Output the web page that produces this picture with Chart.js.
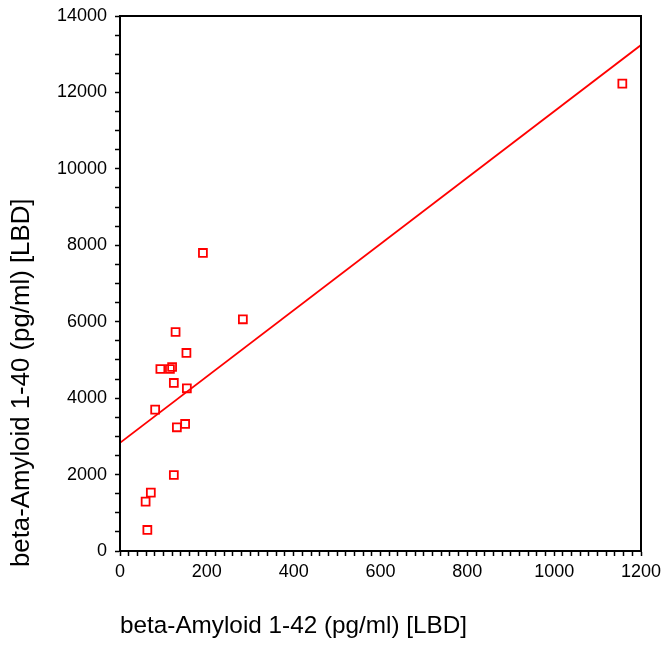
<!DOCTYPE html>
<html>
<head>
<meta charset="utf-8">
<script src="https://cdn.jsdelivr.net/npm/chart.js@4"></script>
<style>
  html, body { margin: 0; padding: 0; background: #fff; }
  #wrap { width: 664px; height: 649px; }
</style>
</head>
<body>
<div id="wrap"><canvas id="chart" width="664" height="649"></canvas></div>
<script>
// values
const abeta42 = [283, 128, 153, 93, 115, 120, 124, 154, 81, 150, 131, 124, 71, 59, 63, 191, 1157];
const abeta40 = [6064, 5731, 5182, 4763, 4763, 4815, 4397, 4258, 3698, 3324, 3237, 1989, 1527, 1291, 550, 7799, 12230];

// regression line ends
const fitX = [0, 1200];
const fitY = [2830, 13240];

const xTitle = 'beta-Amyloid 1-42 (pg/ml) [LBD]';
const yTitle = 'beta-Amyloid 1-40 (pg/ml) [LBD]';

const RED = '#ff0000';
const FONT = 'Liberation Sans, Arial, Helvetica, sans-serif';

function range(lo, hi, step) {
  const out = [];
  for (let v = lo; v <= hi + 1e-9; v += step) out.push({ value: v });
  return out;
}

// box around plot + axis titles
const frame = {
  id: 'frame',
  afterDraw(chart) {
    const { ctx, chartArea: a } = chart;
    ctx.save();
    ctx.strokeStyle = '#000';
    ctx.lineWidth = 2;
    ctx.strokeRect(a.left, a.top, a.right - a.left, a.bottom - a.top);

    ctx.fillStyle = '#000';
    ctx.textBaseline = 'alphabetic';
    ctx.textAlign = 'left';
    ctx.font = '24.3px ' + FONT;
    ctx.fillText(xTitle, a.left, a.bottom + 82);

    ctx.translate(29, a.bottom + 16);
    ctx.rotate(-Math.PI / 2);
    ctx.font = '25.8px ' + FONT;
    ctx.fillText(yTitle, 0, 0);
    ctx.restore();
  }
};

const pts = abeta42.map((x, i) => ({ x: x, y: abeta40[i] }));
const fit = fitX.map((x, i) => ({ x: x, y: fitY[i] }));

new Chart(document.getElementById('chart'), {
  type: 'scatter',
  data: {
    datasets: [
      {
        label: 'fit',
        type: 'line',
        data: fit,
        borderColor: RED,
        borderWidth: 1.8,
        pointRadius: 0,
        fill: false
      },
      {
        label: 'samples',
        data: pts,
        pointStyle: 'rect',
        pointRadius: 5.6,
        pointHoverRadius: 5.6,
        pointBorderWidth: 1.8,
        borderColor: RED,
        backgroundColor: 'rgba(0,0,0,0)'
      }
    ]
  },
  options: {
    responsive: false,
    animation: false,
    layout: { padding: { left: 0, top: 16, right: 23, bottom: 0 } },
    plugins: { legend: { display: false }, tooltip: { enabled: false } },
    scales: {
      x: {
        type: 'linear',
        min: 0, max: 1200,
        afterBuildTicks: s => { s.ticks = range(0, 1200, 20); },
        afterFit: s => { s.height = 98; s.paddingRight = 0; s.paddingLeft = 0; },
        grid: { drawOnChartArea: false, tickLength: 5, tickWidth: 1.5, color: '#000' },
        border: { color: '#000', width: 2 },
        ticks: {
          autoSkip: false, maxRotation: 0, padding: 5, color: '#000',
          font: { family: FONT, size: 18 },
          callback: v => (v % 200 === 0 ? String(v) : '')
        }
      },
      y: {
        type: 'linear',
        min: 0, max: 14000,
        afterBuildTicks: s => { s.ticks = range(0, 14000, 500); },
        afterFit: s => { s.width = 120; s.paddingTop = 0; s.paddingBottom = 0; },
        grid: { drawOnChartArea: false, tickLength: 5, tickWidth: 1.5, color: '#000' },
        border: { color: '#000', width: 2 },
        ticks: {
          autoSkip: false, padding: 8, color: '#000',
          font: { family: FONT, size: 18 },
          callback: v => (v % 2000 === 0 ? String(v) : '')
        }
      }
    }
  },
  plugins: [frame]
});
</script>
</body>
</html>
